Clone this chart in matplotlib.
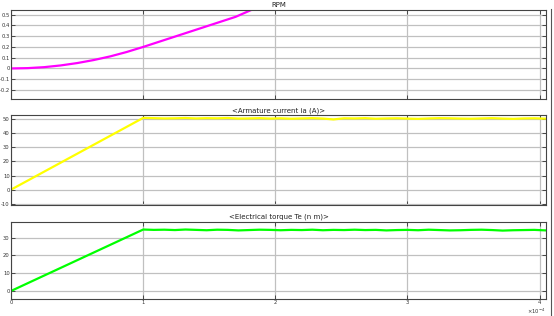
import numpy as np
import matplotlib.pyplot as plt

# time axis values (x 1e-4)
t_rpm = [0, 0.125, 0.25, 0.375, 0.5, 0.625, 0.75, 0.875, 1.0, 1.25, 1.5, 1.7, 1.83]
rpm = [0, 0.003, 0.012, 0.028, 0.05, 0.078, 0.112, 0.153, 0.2, 0.3, 0.4, 0.48, 0.55]

t_flat = [1.0, 1.08, 1.16, 1.24, 1.32, 1.4, 1.48, 1.56, 1.64, 1.72, 1.8, 1.88, 1.96,
          2.04, 2.12, 2.2, 2.28, 2.36, 2.44, 2.52, 2.6, 2.68, 2.76, 2.84, 2.92, 3.0,
          3.08, 3.16, 3.24, 3.32, 3.4, 3.48, 3.56, 3.64, 3.72, 3.8, 3.88, 3.96, 4.05]
ia_flat = [51.0, 50.8, 50.6, 50.7, 50.9, 50.6, 50.8, 50.7, 50.9, 50.5, 50.6, 50.8, 50.5,
           50.7, 50.4, 50.6, 50.8, 50.5, 49.9, 50.7, 50.6, 50.8, 50.4, 50.6, 50.7, 50.5,
           50.3, 50.6, 50.8, 50.7, 50.5, 50.4, 50.6, 50.8, 50.5, 50.3, 50.6, 50.7, 50.4]
te_flat = [34.5, 34.3, 34.4, 34.2, 34.5, 34.3, 34.1, 34.4, 34.3, 34.0, 34.2, 34.4, 34.3,
           34.1, 34.3, 34.2, 34.4, 34.1, 34.3, 34.2, 34.4, 34.2, 34.3, 34.0, 34.2, 34.3,
           34.1, 34.4, 34.2, 34.0, 34.1, 34.3, 34.4, 34.2, 33.9, 34.1, 34.2, 34.3, 34.0]

t_ia = [0] + t_flat
ia = [0] + ia_flat
t_te = [0] + t_flat
te = [0] + te_flat

panels = [
    ('RPM', t_rpm, rpm, '#ff00ff', (-0.28, 0.545), np.arange(-0.2, 0.51, 0.1)),
    ('<Armature current ia (A)>', t_ia, ia, '#ffff00', (-11, 52.8), np.arange(-10, 51, 10)),
    ('<Electrical torque Te (n m)>', t_te, te, '#00ff00', (-4.5, 39), np.arange(0, 31, 10)),
]
boxes = [[0.02, 0.688, 0.966, 0.281],
         [0.02, 0.351, 0.966, 0.284],
         [0.02, 0.054, 0.966, 0.245]]

fig = plt.figure(figsize=(5.54, 3.16), dpi=100)
for i, (title, x, y, col, yl, yt) in enumerate(panels):
    ax = fig.add_axes(boxes[i])
    ax.plot(x, y, color=col, lw=1.6)
    ax.set_xlim(0, 4.05)
    ax.set_ylim(*yl)
    ax.set_xticks([0, 1, 2, 3, 4])
    ax.set_yticks(yt)
    ax.set_yticklabels(['%g' % round(v, 2) for v in yt])
    if i < 2:
        ax.set_xticklabels([])
    ax.grid(True, color='#c0c0c0', lw=0.9)
    ax.tick_params(direction='in', labelsize=3.8, length=3, width=0.6,
                   top=True, right=True, pad=1, colors='#333333')
    for s in ax.spines.values():
        s.set_color('#444444')
        s.set_linewidth(0.8)
    ax.set_title(title, fontsize=5, pad=2, color='#222222')

fig.text(0.985, 0.016, r'$\times10^{-4}$', fontsize=3.8, ha='right', va='center', color='#333333')
fig.add_artist(plt.Line2D([0.995, 0.995], [0, 0.97], color='#555555', lw=0.8))
fig.savefig('out.png', dpi=100)
